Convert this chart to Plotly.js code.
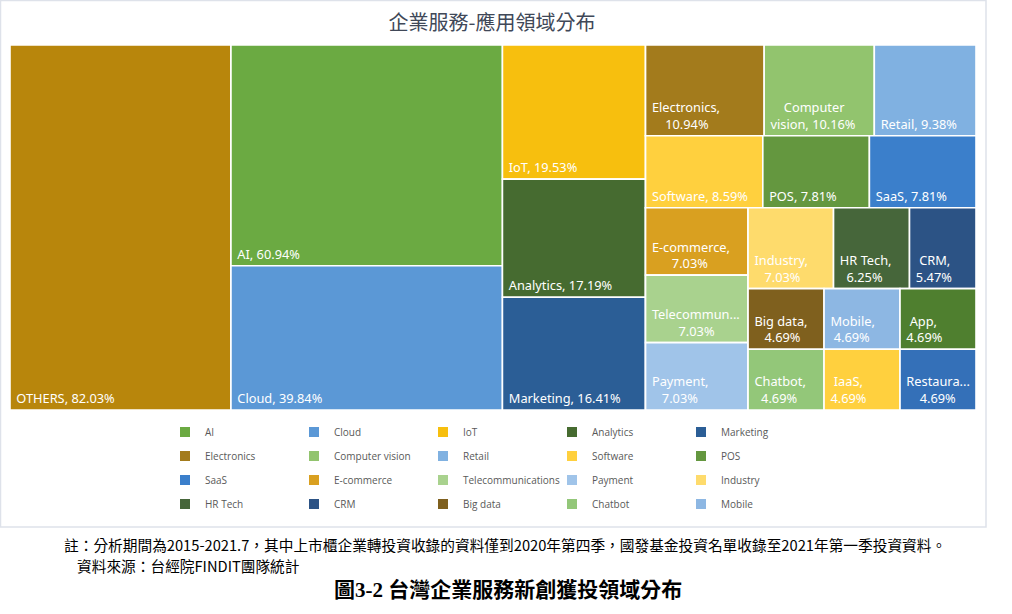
<!DOCTYPE html>
<html>
<head>
<meta charset="utf-8">
<script src="https://cdn.plot.ly/plotly-3.0.1.min.js"></script>
<style>
  html, body { margin: 0; padding: 0; background: #ffffff; }
  #chart { width: 1012px; height: 614px; }
</style>
</head>
<body>
<div id="chart"></div>
<script>
// ---- data ----
const categories = ['OTHERS', 'AI', 'Cloud', 'IoT', 'Analytics', 'Marketing',
  'Electronics', 'Computer vision', 'Retail', 'Software', 'POS', 'SaaS',
  'E-commerce', 'Telecommunications', 'Payment', 'Industry', 'HR Tech', 'CRM',
  'Big data', 'Mobile', 'App', 'Chatbot', 'IaaS', 'Restaurant'];
const shares = [82.03, 60.94, 39.84, 19.53, 17.19, 16.41,
  10.94, 10.16, 9.38, 8.59, 7.81, 7.81,
  7.03, 7.03, 7.03, 7.03, 6.25, 5.47,
  4.69, 4.69, 4.69, 4.69, 4.69, 4.69];
const colors = ['#B8860C', '#6BAA42', '#5B98D6', '#F7BF0E', '#466B30', '#2B5E96',
  '#A37B1C', '#92C46E', '#80B1E1', '#FFD03E', '#64973F', '#3B7FCB',
  '#D9A020', '#A9D28E', '#A0C4E9', '#FEDB6C', '#46663A', '#2C5385',
  '#7F601E', '#8DB7E3', '#4F7F2F', '#93C779', '#FFD03E', '#3470B8'];
// tile group each category belongs to (reproduces the original tile arrangement)
const tileGroup = ['', 'g1', 'g1', 'g2', 'g2', 'g2',
  'row1', 'row1', 'row1', 'row2', 'row2', 'row2',
  'col3', 'col3', 'col3', 'row4', 'row4', 'row4',
  'row5', 'row5', 'row5', 'row6', 'row6', 'row6'];
const groupIds = ['g1', 'g2', 'rest', 'row1', 'row2', 'rest2', 'col3', 'rest3', 'row4', 'row5', 'row6'];
const groupParents = ['', '', '', 'rest', 'rest', 'rest', 'rest2', 'rest2', 'rest3', 'rest3', 'rest3'];
// how each tile label is shown (original truncates / wraps)
const shortNames = { 'Telecommunications': 'Telecommun...', 'Restaurant': 'Restaura...' };
const wrapAfterComma = ['Electronics', 'E-commerce', 'Telecommunications', 'Payment', 'Industry',
  'HR Tech', 'CRM', 'Big data', 'Mobile', 'App', 'Chatbot', 'IaaS', 'Restaurant'];
const wrapInside = { 'Computer vision': 'Computer<br>vision' };
const legendOrder = ['AI', 'Cloud', 'IoT', 'Analytics', 'Marketing',
  'Electronics', 'Computer vision', 'Retail', 'Software', 'POS',
  'SaaS', 'E-commerce', 'Telecommunications', 'Payment', 'Industry',
  'HR Tech', 'CRM', 'Big data', 'Chatbot', 'Mobile'];
const titleText = '企業服務-應用領域分布';
const noteText = '註：分析期間為2015-2021.7，其中上市櫃企業轉投資收錄的資料僅到2020年第四季，國發基金投資名單收錄至2021年第一季投資資料。';
const sourceText = '資料來源：台經院FINDIT團隊統計';
const captionText = '圖3-2 台灣企業服務新創獲投領域分布';

// ---- build treemap ----
const TILE_FONT = 'Noto Sans';
const TILE_SIZE = 12.8;
const NB = '\u00a0';
const ctx = document.createElement('canvas').getContext('2d');
ctx.font = TILE_SIZE + 'px "' + TILE_FONT + '"';
const nbW = ctx.measureText(NB).width || TILE_SIZE * 0.26;
function tileLabel(name, v) {
  let lines;
  if (shortNames[name]) {
    lines = [shortNames[name], v.toFixed(2) + '%'];
  } else {
    let n = wrapInside[name] || name;
    let sep = wrapAfterComma.indexOf(name) >= 0 ? ',<br>' : ', ';
    lines = (n + sep + v.toFixed(2) + '%').split('<br>');
  }
  // centre the lines of a wrapped label within its block, like the original
  const widths = lines.map(function (l) { return ctx.measureText(l).width; });
  const maxW = Math.max.apply(null, widths);
  return lines.map(function (l, k) {
    const pad = 1 + Math.round((maxW - widths[k]) / 2 / nbW);
    return NB.repeat(pad) + l;
  }).join('<br>');
}
const ids = [], labels = [], parents = [], values = [], texts = [], tileColors = [];
function pushLeaf(i) {
  ids.push(categories[i]); labels.push(categories[i]); parents.push(tileGroup[i]);
  values.push(shares[i]); texts.push(tileLabel(categories[i], shares[i])); tileColors.push(colors[i]);
}
pushLeaf(0);
groupIds.forEach(function (g, k) {
  ids.push(g); labels.push(' '); parents.push(groupParents[k]); values.push(0); texts.push(''); tileColors.push('#ffffff');
});
for (let i = 1; i < categories.length; i++) pushLeaf(i);

const W = 1012, H = 614;
const traces = [{
  type: 'treemap',
  ids: ids, labels: labels, parents: parents, values: values,
  text: texts, textinfo: 'text', textposition: 'bottom left',
  branchvalues: 'remainder', sort: false,
  tiling: { packing: 'slice-dice', pad: 0 },
  marker: { colors: tileColors, line: { color: '#ffffff', width: 1.6 }, pad: { t: 0, l: 0, r: 0, b: 0 } },
  pathbar: { visible: false },
  textfont: { family: TILE_FONT + ', Open Sans, sans-serif', size: TILE_SIZE, color: '#ffffff' },
  hoverinfo: 'skip',
  domain: { x: [10 / W, 976 / W], y: [1 - 410 / H, 1 - 45 / H] }
}];

const legendNames = ['legend', 'legend2', 'legend3', 'legend4'];
const legendRowsY = [432, 456, 480, 504];
legendOrder.forEach(function (name, k) {
  const i = categories.indexOf(name);
  traces.push({
    type: 'scatter', mode: 'markers', x: [null], y: [null], name: name,
    marker: { symbol: 'square', size: 10, color: colors[i] },
    legend: legendNames[Math.floor(k / 5)], showlegend: true, hoverinfo: 'skip'
  });
});

const layout = {
  width: W, height: H,
  margin: { l: 0, r: 0, t: 0, b: 0 },
  paper_bgcolor: '#ffffff', plot_bgcolor: 'rgba(0,0,0,0)',
  xaxis: { visible: false, range: [0, 1] },
  yaxis: { visible: false, range: [0, 1] },
  title: { text: titleText, x: 492 / W, xanchor: 'center', y: 1 - 23 / H, yanchor: 'middle', yref: 'container', xref: 'container',
           font: { family: 'Noto Sans CJK TC, sans-serif', size: 20, color: '#404858' } },
  shapes: [{ type: 'rect', xref: 'paper', yref: 'paper', x0: 0.5 / W, x1: 986 / W, y0: 1 - 527 / H, y1: 1 - 0.5 / H,
             line: { color: '#DEE2EA', width: 1.5 }, fillcolor: 'rgba(0,0,0,0)', layer: 'below' }],
  annotations: [
    { text: noteText, xref: 'paper', yref: 'paper', x: 62 / W, xanchor: 'left', y: 1 - 544 / H, yanchor: 'middle', showarrow: false,
      font: { family: 'Noto Sans CJK TC, sans-serif', size: 14.7, color: '#000000' } },
    { text: sourceText, xref: 'paper', yref: 'paper', x: 75 / W, xanchor: 'left', y: 1 - 565 / H, yanchor: 'middle', showarrow: false,
      font: { family: 'Noto Sans CJK TC, sans-serif', size: 14.7, color: '#000000' } },
    { text: '<b>' + captionText + '</b>', xref: 'paper', yref: 'paper', x: 508 / W, xanchor: 'center', y: 1 - 590 / H, yanchor: 'middle', showarrow: false,
      font: { family: 'Liberation Serif, Noto Sans CJK TC, serif', size: 21, color: '#000000' } }
  ]
};
legendNames.forEach(function (ln, r) {
  layout[ln] = {
    orientation: 'h', xref: 'paper', yref: 'paper',
    x: 165 / W, xanchor: 'left', y: 1 - legendRowsY[r] / H, yanchor: 'middle',
    entrywidth: 84, entrywidthmode: 'pixels', itemwidth: 30,
    bgcolor: 'rgba(0,0,0,0)', borderwidth: 0,
    font: { family: 'Open Sans, sans-serif', size: 10, color: '#595959' }
  };
});

Plotly.newPlot('chart', traces, layout, { displayModeBar: false, staticPlot: true });
</script>
</body>
</html>
